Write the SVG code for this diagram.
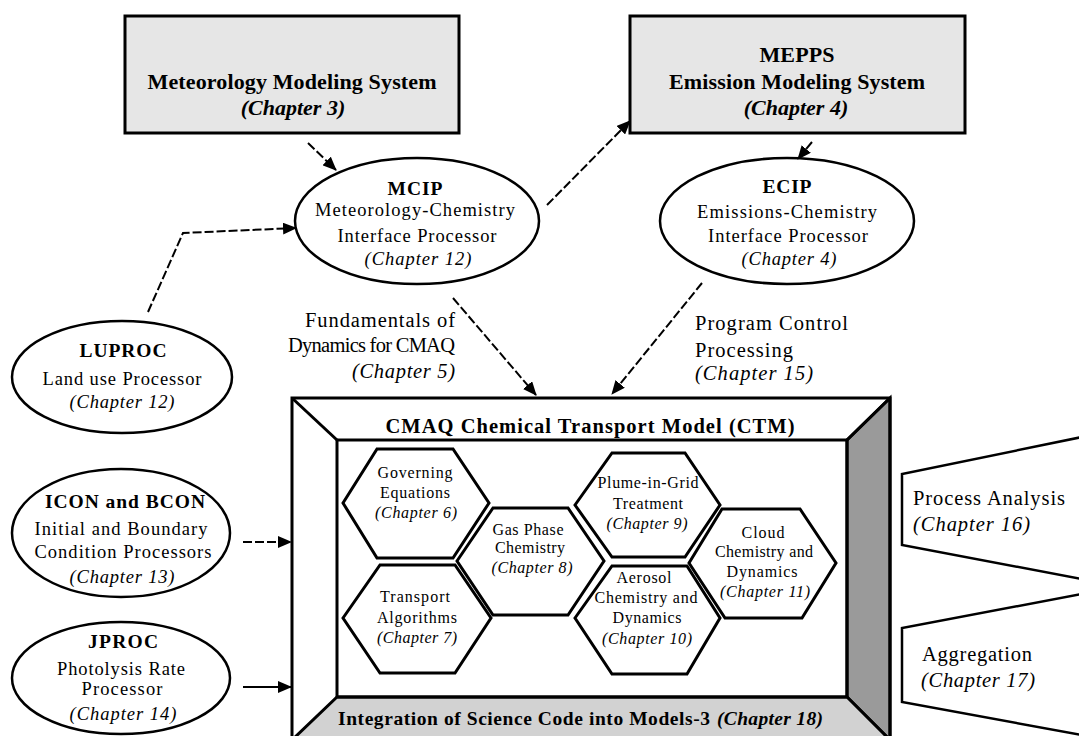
<svg xmlns="http://www.w3.org/2000/svg" width="1079" height="736" viewBox="0 0 1079 736">
<defs>
<marker id="ah" markerUnits="userSpaceOnUse" markerWidth="14" markerHeight="12" refX="13" refY="6" orient="auto">
<path d="M0,0 L14,6 L0,12 Z" fill="#000"/>
</marker>
<style>
text{font-family:"Liberation Serif","Times New Roman",serif;fill:#000}
.b{font-weight:bold}
.i{font-style:italic}
.box{fill:#e6e6e6;stroke:#000;stroke-width:3}
.ell{fill:#fff;stroke:#000;stroke-width:2.5}
.hex{fill:#fff;stroke:#000;stroke-width:3;stroke-linejoin:miter}
.frame{fill:none;stroke:#000;stroke-width:3}
.con{fill:none;stroke:#000;stroke-width:2;marker-end:url(#ah)}
.dash{stroke-dasharray:9 3}
.t20{font-size:22px}
.t17{font-size:18.5px}
.t15{font-size:16px}
.t19{font-size:19.5px}
.tl{font-size:20.5px}
</style>
</defs>
<rect width="1079" height="736" fill="#fff"/>

<g id="met">
<rect class="box" x="125" y="16" width="334" height="117"/>
<text class="b t20" x="292" y="89" text-anchor="middle" textLength="289" lengthAdjust="spacing">Meteorology Modeling System</text>
<text class="b i t20" x="293" y="115" text-anchor="middle">(Chapter 3)</text>
</g>

<g id="mepps">
<rect class="box" x="630" y="16" width="335" height="117"/>
<text class="b t20" x="797" y="62" text-anchor="middle" textLength="75" lengthAdjust="spacing">MEPPS</text>
<text class="b t20" x="797" y="89" text-anchor="middle" textLength="256" lengthAdjust="spacing">Emission Modeling System</text>
<text class="b i t20" x="796" y="115" text-anchor="middle">(Chapter 4)</text>
</g>

<g id="mcip">
<ellipse class="ell" cx="417" cy="221" rx="122" ry="63"/>
<text class="b t19" x="415" y="195" text-anchor="middle" textLength="55" lengthAdjust="spacing">MCIP</text>
<text class="t17" x="415" y="216" text-anchor="middle" textLength="200" lengthAdjust="spacing">Meteorology-Chemistry</text>
<text class="t17" x="417" y="242" text-anchor="middle" textLength="159" lengthAdjust="spacing">Interface Processor</text>
<text class="i t17" x="418" y="265" text-anchor="middle" textLength="107" lengthAdjust="spacing">(Chapter 12)</text>
</g>

<g id="ecip">
<ellipse class="ell" cx="787" cy="221" rx="127" ry="63"/>
<text class="b t19" x="787" y="193" text-anchor="middle" textLength="49" lengthAdjust="spacing">ECIP</text>
<text class="t17" x="787" y="218" text-anchor="middle" textLength="180" lengthAdjust="spacing">Emissions-Chemistry</text>
<text class="t17" x="788" y="242" text-anchor="middle" textLength="160" lengthAdjust="spacing">Interface Processor</text>
<text class="i t17" x="789" y="265" text-anchor="middle" textLength="95" lengthAdjust="spacing">(Chapter 4)</text>
</g>

<g id="luproc">
<ellipse class="ell" cx="122" cy="377" rx="110" ry="56"/>
<text class="b t19" x="123" y="357" text-anchor="middle" textLength="87" lengthAdjust="spacing">LUPROC</text>
<text class="t17" x="122" y="385" text-anchor="middle" textLength="159" lengthAdjust="spacing">Land use Processor</text>
<text class="i t17" x="122" y="408" text-anchor="middle" textLength="105" lengthAdjust="spacing">(Chapter 12)</text>
</g>

<g id="icon">
<ellipse class="ell" cx="121" cy="533" rx="109" ry="64"/>
<text class="b t19" x="125" y="508" text-anchor="middle" textLength="160" lengthAdjust="spacing">ICON and BCON</text>
<text class="t17" x="121" y="535" text-anchor="middle" textLength="173" lengthAdjust="spacing">Initial and Boundary</text>
<text class="t17" x="123" y="558" text-anchor="middle" textLength="177" lengthAdjust="spacing">Condition Processors</text>
<text class="i t17" x="122" y="583" text-anchor="middle" textLength="105" lengthAdjust="spacing">(Chapter 13)</text>
</g>

<g id="jproc">
<ellipse class="ell" cx="121" cy="678" rx="109" ry="56"/>
<text class="b t19" x="123" y="648" text-anchor="middle" textLength="70" lengthAdjust="spacing">JPROC</text>
<text class="t17" x="121" y="675" text-anchor="middle" textLength="128" lengthAdjust="spacing">Photolysis Rate</text>
<text class="t17" x="122" y="695" text-anchor="middle" textLength="81" lengthAdjust="spacing">Processor</text>
<text class="i t17" x="123" y="720" text-anchor="middle" textLength="107" lengthAdjust="spacing">(Chapter 14)</text>
</g>

<g id="label-dynamics">
<text class="tl" x="455" y="327" text-anchor="end" textLength="150" lengthAdjust="spacing">Fundamentals of</text>
<text class="tl" x="455" y="352" text-anchor="end" textLength="167" lengthAdjust="spacing">Dynamics for CMAQ</text>
<text class="i tl" x="455" y="378" text-anchor="end" textLength="103" lengthAdjust="spacing">(Chapter 5)</text>
</g>

<g id="label-control">
<text class="tl" x="695" y="330" textLength="153" lengthAdjust="spacing">Program Control</text>
<text class="tl" x="695" y="357" textLength="98" lengthAdjust="spacing">Processing</text>
<text class="i tl" x="695" y="380" textLength="118" lengthAdjust="spacing">(Chapter 15)</text>
</g>

<g id="ctm">
<polygon points="847,440 890,398 890,740 847,697" fill="#9a9a9a" stroke="#000" stroke-width="3"/>
<polygon points="292,740 337,697 847,697 890,740" fill="#d2d2d2" stroke="#000" stroke-width="3"/>
<rect class="frame" x="292" y="398" width="598" height="342"/>
<rect class="frame" x="337" y="440" width="510" height="257"/>
<line x1="292" y1="398" x2="337" y2="440" stroke="#000" stroke-width="3"/>
<line x1="890" y1="398" x2="847" y2="440" stroke="#000" stroke-width="3"/>
<text class="b tl" x="590" y="433" text-anchor="middle" textLength="409" lengthAdjust="spacing">CMAQ Chemical Transport Model (CTM)</text>
<text class="b t19" x="338" y="725" textLength="372" lengthAdjust="spacing">Integration of Science Code into Models-3</text>
<text class="b i t19" x="717" y="725" textLength="106" lengthAdjust="spacing">(Chapter 18)</text>
</g>

<g id="hex-governing">
<polygon class="hex" points="343,503 377,449 453,449 489,503 453,558 377,558"/>
<text class="t15" x="415" y="478" text-anchor="middle" textLength="75" lengthAdjust="spacing">Governing</text>
<text class="t15" x="415" y="498" text-anchor="middle" textLength="70" lengthAdjust="spacing">Equations</text>
<text class="i t15" x="416" y="518" text-anchor="middle" textLength="82" lengthAdjust="spacing">(Chapter 6)</text>
</g>

<g id="hex-transport">
<polygon class="hex" points="343,618 380,565 455,565 491,618 455,673 380,673"/>
<text class="t15" x="415" y="602" text-anchor="middle" textLength="70" lengthAdjust="spacing">Transport</text>
<text class="t15" x="417" y="623" text-anchor="middle" textLength="80" lengthAdjust="spacing">Algorithms</text>
<text class="i t15" x="417" y="643" text-anchor="middle" textLength="80" lengthAdjust="spacing">(Chapter 7)</text>
</g>

<g id="hex-gas">
<polygon class="hex" points="457,561 493,508 568,508 604,561 568,615 493,615"/>
<text class="t15" x="528" y="535" text-anchor="middle" textLength="71" lengthAdjust="spacing">Gas Phase</text>
<text class="t15" x="530" y="553" text-anchor="middle" textLength="70" lengthAdjust="spacing">Chemistry</text>
<text class="i t15" x="532" y="573" text-anchor="middle" textLength="81" lengthAdjust="spacing">(Chapter 8)</text>
</g>

<g id="hex-plume">
<polygon class="hex" points="575,505 612,453 685,453 720,505 685,557 612,557"/>
<text class="t15" x="648" y="488" text-anchor="middle" textLength="101" lengthAdjust="spacing">Plume-in-Grid</text>
<text class="t15" x="648" y="509" text-anchor="middle" textLength="70" lengthAdjust="spacing">Treatment</text>
<text class="i t15" x="647" y="529" text-anchor="middle" textLength="81" lengthAdjust="spacing">(Chapter 9)</text>
</g>

<g id="hex-aerosol">
<polygon class="hex" points="575,618 612,566 687,566 720,618 687,674 612,674"/>
<text class="t15" x="644" y="583" text-anchor="middle" textLength="55" lengthAdjust="spacing">Aerosol</text>
<text class="t15" x="646" y="603" text-anchor="middle" textLength="103" lengthAdjust="spacing">Chemistry and</text>
<text class="t15" x="647" y="623" text-anchor="middle" textLength="69" lengthAdjust="spacing">Dynamics</text>
<text class="i t15" x="647" y="644" text-anchor="middle" textLength="90" lengthAdjust="spacing">(Chapter 10)</text>
</g>

<g id="hex-cloud">
<polygon class="hex" points="689,563 722,509 800,509 836,563 802,618 725,618"/>
<text class="t15" x="763" y="538" text-anchor="middle" textLength="43" lengthAdjust="spacing">Cloud</text>
<text class="t15" x="764" y="557" text-anchor="middle" textLength="98" lengthAdjust="spacing">Chemistry and</text>
<text class="t15" x="762" y="577" text-anchor="middle" textLength="71" lengthAdjust="spacing">Dynamics</text>
<text class="i t15" x="765" y="597" text-anchor="middle" textLength="90" lengthAdjust="spacing">(Chapter 11)</text>
</g>

<g id="process-analysis">
<polygon points="1082,437 902,474 902,545 1082,579" fill="#fff" stroke="#000" stroke-width="2.5"/>
<text class="tl" x="913" y="505" textLength="152" lengthAdjust="spacing">Process Analysis</text>
<text class="i tl" x="913" y="531" textLength="117" lengthAdjust="spacing">(Chapter 16)</text>
</g>

<g id="aggregation">
<polygon points="1082,594 902,628 902,702 1082,735" fill="#fff" stroke="#000" stroke-width="2.5"/>
<text class="tl" x="922" y="661" textLength="110" lengthAdjust="spacing">Aggregation</text>
<text class="i tl" x="921" y="687" textLength="114" lengthAdjust="spacing">(Chapter 17)</text>
</g>

<g id="connectors">
<line class="con dash" x1="308" y1="143" x2="336" y2="170"/>
<line class="con dash" x1="547" y1="205" x2="630" y2="121"/>
<line class="con dash" x1="812" y1="142" x2="798" y2="159"/>
<polyline class="con dash" points="148,312 183,233 296,228"/>
<line class="con dash" x1="453" y1="298" x2="536" y2="395"/>
<line class="con dash" x1="702" y1="283" x2="612" y2="394"/>
<line class="con dash" x1="243" y1="542" x2="291" y2="542"/>
<line class="con" x1="243" y1="687" x2="291" y2="687" stroke-width="3"/>
</g>
</svg>
